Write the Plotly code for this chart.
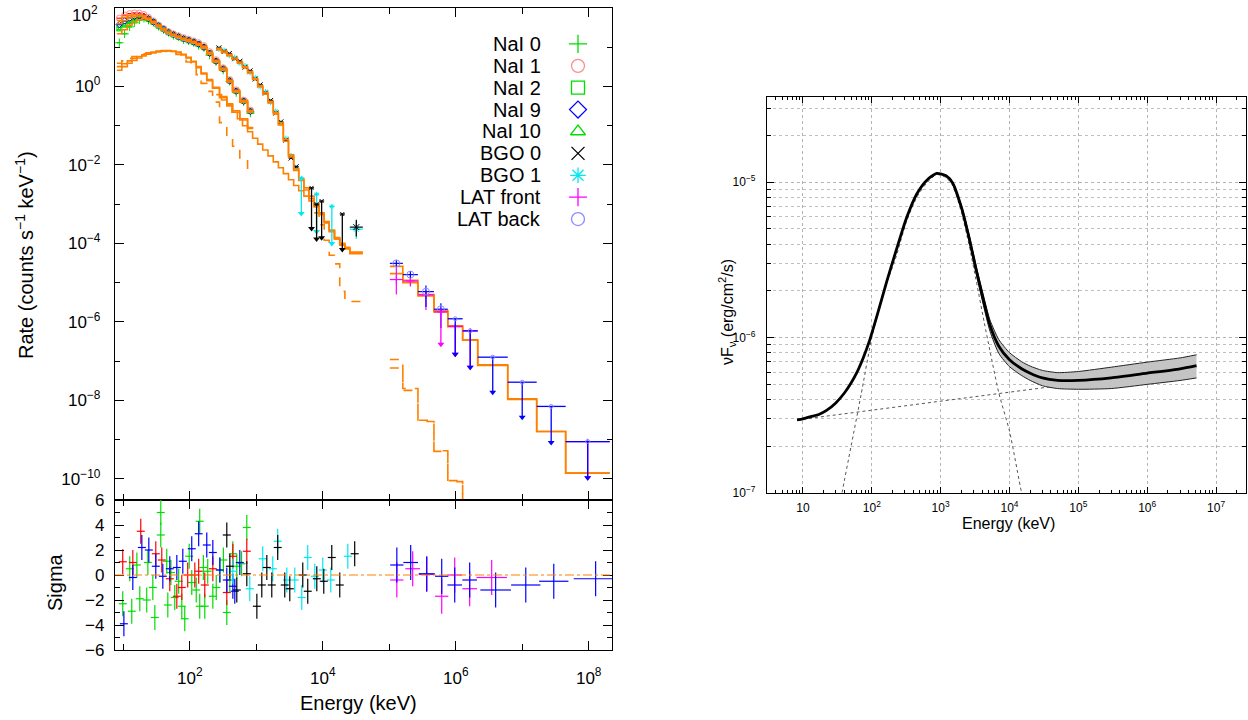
import numpy as np
import plotly.graph_objects as go

# ======================= LEFT: count spectra =======================
NAI_EDGES = [8, 9.5, 11.5, 13.5, 16, 19, 22, 26, 31, 37, 44, 52, 62, 74, 88, 105, 125, 148,
             180, 220, 280, 360, 440, 565, 740, 900]
NAI_MODEL_A = [48, 58, 65, 68, 68, 64, 55, 45, 36, 29, 24, 21, 19, 17, 15.5, 14, 12.5, 10.5,
               7.4, 4.6, 2.9, 1.43, 0.79, 0.44, 0.24]
NAI_MODEL_B = [40, 48, 55, 60, 62, 60, 53, 44, 36, 29, 24, 21, 18.5, 16.5, 15, 13.5, 12, 10,
               7.0, 4.4, 2.8, 1.38, 0.76, 0.42, 0.23]
NAI_MODEL_C = [22, 28, 36, 44, 50, 53, 50, 42, 35, 28, 23.5, 20.5, 18, 16, 14.5, 13, 11.5, 9.5,
               6.6, 4.2, 2.65, 1.3, 0.72, 0.40, 0.22]
NAI_LOW_A = [3.2, 3.8, 4.5, 5.2, 5.8, 6.4, 7.0, 7.5, 8.0, 8.2, 8.2, 8.0, 7.5, 6.6, 5.5, 4.4,
             3.2, 2.2, 1.5, 0.95, 0.55, 0.36, 0.24, 0.15, 0.09]
NAI_LOW_B = [2.6, 3.2, 3.9, 4.6, 5.3, 6.0, 6.6, 7.1, 7.6, 7.9, 8.0, 7.8, 7.3, 6.4, 5.3, 4.2,
             3.0, 2.1, 1.4, 0.9, 0.52, 0.34, 0.22, 0.14, 0.085]
NAI_LOW_DASH = [3.9, 4.5, 5.2, 5.8, 6.3, 6.8, 7.2, 7.6, 7.9, 8.0, 7.8, 7.3, 6.5, 5.4, 4.2, 3.0,
                2.0, 1.2, 0.75, 0.4, 0.12, 0.055, 0.03, 0.015, 0.007]

NAI0_RATE = [13, 22, 33, 42, 50, 55, 49, 43, 34, 28, 24, 20, 18.5, 15.5, 14.5, 13.2, 11, 9.8,
             6.3, 4.3, 2.6, 1.35, 0.70, 0.41, 0.21]
NAI1_RATE = [55, 66, 72, 75, 74, 68, 58, 47, 37, 30, 25, 22, 19.5, 17.5, 16, 14.5, 13, 11,
             7.7, 4.8, 3.0, 1.5, 0.82, 0.45, 0.25]
NAI2_RATE = [32, 40, 48, 54, 57, 58, 52, 44, 35, 29, 24, 21, 18.5, 16.5, 15, 13.5, 12, 10,
             7.2, 4.5, 2.85, 1.42, 0.78, 0.43, 0.24]
NAI9_RATE = [38, 47, 55, 61, 63, 61, 54, 44, 36, 29, 24, 21, 18.5, 16.5, 15, 13.5, 12, 10,
             7.0, 4.4, 2.8, 1.38, 0.76, 0.42, 0.23]
NAI10_RATE = [28, 35, 43, 50, 54, 56, 51, 43, 35, 28.5, 23.5, 20.5, 18, 16, 14.5, 13, 11.5, 9.7,
              6.8, 4.3, 2.7, 1.35, 0.74, 0.41, 0.22]

BGO_EDGES = [250, 300, 360, 430, 520, 620, 740, 880, 1050, 1250, 1500, 1800, 2150, 2550, 3050,
             3650, 4350, 5200, 6200, 7400, 8800, 10500, 12500, 15000, 18000, 21500, 25500, 40000]
BGO_MODEL_0 = [9.4, 8.0, 6.6, 5.3, 4.2, 3.2, 2.4, 1.6, 1.05, 0.7, 0.42, 0.22, 0.12, 0.045, 0.018,
               0.008, 0.0045, 0.0026, 0.0016, 0.001, 0.0006, 0.00036, 0.00022, 0.00014, 0.0001,
               0.00008, 0.00006]
BGO_MODEL_1 = [8.6, 7.4, 6.1, 5.0, 3.9, 3.0, 2.2, 1.5, 0.98, 0.64, 0.38, 0.2, 0.105, 0.04, 0.016,
               0.0072, 0.004, 0.0023, 0.0014, 0.0009, 0.00055, 0.00033, 0.0002, 0.00013, 0.00009,
               0.000072, 0.000055]
BGO_LOW = [0.62, 0.45, 0.32, 0.22, 0.15, 0.1, 0.07, 0.048, 0.034, 0.024, 0.017, 0.012, 0.0085,
           0.006, 0.0042, 0.003, 0.0022, 0.0016, 0.0012, 0.00085, 0.00055, 0.00034, 0.00021,
           0.00013, 0.000095, 0.000075, 0.000058]
BGO_DASH_EDGES = [7400, 8800, 10500, 12500, 15000, 18000, 21500, 25500, 40000]
BGO_DASH = [0.0006, 0.0003, 0.00012, 0.00005, 0.00003, 0.000006, 0.000004, 0.0000033]

BGO0_RATE = [9.6, 7.8, 6.9, 5.1, 4.4, 3.1, 2.5, 1.55, 1.1, 0.68, 0.44, 0.21, 0.125, 0.043, 0.015, 0.009]
BGO1_RATE = [9.1, 8.2, 6.3, 5.4, 4.0, 3.3, 2.3, 1.65, 1.0, 0.72, 0.4, 0.23, 0.115, 0.047, 0.017, 0.0083]
BGO0_UL_BIN = [18, 19, 20, 24]
BGO0_UL_TOP = [2.6e-3, 1.0e-3, 1.2e-3, 5.6e-4]
BGO0_UL_TIP = [2.4e-4, 1.3e-4, 1.4e-4, 7e-5]
BGO1_UL_BIN = [16, 19, 22]
BGO1_UL_TOP = [4.6e-3, 1.8e-3, 8.8e-4]
BGO1_UL_TIP = [5.8e-4, 2e-4, 1e-4]
BGO_LAST_BIN = [26]
BGO0_LAST = [2.6e-4]; BGO0_LAST_LO = [1.5e-4]; BGO0_LAST_HI = [4.0e-4]
BGO1_LAST = [2.3e-4]; BGO1_LAST_LO = [1.3e-4]; BGO1_LAST_HI = [3.6e-4]

LAT_EDGES = [1.02e5, 1.6e5, 2.7e5, 4.7e5, 7.6e5, 1.27e6, 2.14e6, 6.05e6, 1.65e7, 4.5e7, 2.07e8]
LAT_MODEL_BACK = [2.6e-5, 1.15e-5, 5.0e-6, 1.95e-6, 8.0e-7, 3.5e-7, 7.7e-8, 1.05e-8, 1.6e-9, 1.4e-10]
LAT_MODEL_FRONT = [1.7e-5, 1.0e-5, 4.6e-6, 1.8e-6, 7.5e-7, 3.4e-7, 8.0e-8, 1.1e-8, 1.6e-9, 1.4e-10]
LAT_DASH_BACK = [1.1e-7, 2.0e-8, 3.1e-9, 5.2e-10, 9.0e-11, 1e-12]
LAT_DASH_FRONT = [6.7e-8, 1.8e-8, 2.9e-9, 5.0e-10, 8.5e-11, 1e-12]

LATB_BIN = [0, 1, 2, 3]
LATB_RATE = [3.1e-5, 1.6e-5, 5.9e-6, 2.1e-6]
LATB_LO = [2.5e-5, 1.3e-5, 2.4e-6, 7e-7]
LATB_HI = [3.7e-5, 1.95e-5, 8.5e-6, 3.0e-6]
LATB_UL_BIN = [4, 5, 6, 7, 8, 9]
LATB_UL_TOP = [1.2e-6, 5.9e-7, 1.26e-7, 2.9e-8, 7.0e-9, 8.9e-10]
LATB_UL_TIP = [1.5e-7, 7e-8, 1.6e-8, 3.7e-9, 8.4e-10, 1.07e-10]
LATF_BIN = [0, 1, 2]
LATF_RATE = [1.2e-5, 1.1e-5, 4.9e-6]
LATF_LO = [5e-6, 8e-6, 2e-6]
LATF_HI = [2.9e-5, 1.5e-5, 6e-6]
LATF_UL_BIN = [3, 4, 5, 9]
LATF_UL_TOP = [1.8e-6, 7.7e-7, 5.9e-7, 8.9e-10]
LATF_UL_TIP = [2.7e-7, 1.5e-7, 7e-8, 1.07e-10]

# ---- residuals (sigma) ----
RES_NAI1_E = [9.8, 13.9, 18.3, 30.8, 37.9, 50, 63.8, 75.8, 93, 119, 136, 168, 222, 360, 444, 720]
RES_NAI1_S = [1.06, 1.0, 3.5, 1.7, 1.2, -0.3, -1.7, -1.0, 0.0, 0.0, 0.3, -0.8, 0.5, -1.4, 1.5, 1.9]
RES_NAIG_E = [9.8, 12.5, 13.4, 16, 17.7, 22.5, 23.4, 27.8, 29.8, 36.6, 36.6, 45, 46.7, 52, 59.4, 68,
              75.8, 84, 98, 107, 125, 141, 141, 160, 168, 186, 222, 250, 283, 320, 360, 400, 444,
              509, 600, 720]
RES_NAIG_S = [-2.3, 0.5, -2.9, 0.8, -1.9, -2.0, 1.0, -1.0, -3.4, 5.0, 3.2, 1.1, -2.4, 0.2, -1.8, -0.5,
              -2.5, -3.5, 1.5, -0.6, -1.2, -2.5, 4.3, 0.6, -2.5, 0.3, -1.7, -1.0, 0.4, 1.2, -3.0, -0.4,
              1.7, 0.7, 0.9, 3.8]
RES_NAI9_E = [10.2, 13.9, 19, 24.2, 30.8, 39.3, 50, 63.8, 78.5, 107, 136, 180, 222, 283, 360, 444, 475, 565]
RES_NAI9_S = [-3.9, -0.2, 2.2, 2.0, 0.7, -0.1, 0.5, 0.6, 1.1, 2.1, 3.3, 2.4, 1.8, 0.4, -0.4, -0.9, -1.3, 1.0]
RES_BGO0_E = [360, 400, 509, 720, 1020, 1210, 1440, 1710, 2100, 2680, 3190, 5000, 5940, 8130, 10350,
              13650, 18000, 30200]
RES_BGO0_S = [3.2, 0.7, -1.2, 0.1, -2.5, -0.8, 0.6, -0.8, 2.2, -0.8, -1.1, 0.0, -1.3, -0.3, -0.5,
              1.4, -0.8, 1.7]
RES_BGO1_E = [444, 798, 1250, 1770, 2100, 2880, 3790, 4830, 5940, 7590, 10000, 13200, 23800]
RES_BGO1_S = [0.3, -1.1, 1.3, 0.5, 2.7, -0.4, -0.4, -1.8, 1.4, -0.1, 0.4, -0.4, 1.5]
RES_LATB_E = [1.3e5, 2.1e5, 3.66e5, 6.15e5, 9.65e5, 1.62e6, 3.98e6, 1.13e7, 2.98e7, 1.27e8]
RES_LATB_S = [0.8, 1.0, 0.1, -0.1, -0.8, -0.4, -1.2, -0.8, -0.5, -0.3]
RES_LATB_W = [0.1, 0.11, 0.12, 0.1, 0.11, 0.11, 0.23, 0.22, 0.22, 0.33]
RES_LATF_E = [1.3e5, 2.25e5, 3.66e5, 6.15e5, 9.65e5, 1.62e6, 3.47e6]
RES_LATF_S = [-0.4, 0.5, 0.05, -1.7, 0.0, -1.1, -0.2]
RES_LATF_W = [0.1, 0.11, 0.12, 0.1, 0.11, 0.11, 0.23]

LEGEND_LABELS = ["NaI 0", "NaI 1", "NaI 2", "NaI 9", "NaI 10", "BGO 0", "BGO 1", "LAT front", "LAT back"]

# ======================= RIGHT: nuFnu =======================
TOT_E = [8.2, 10, 13, 17, 22, 30, 40, 50, 60, 75, 93, 120, 165, 220, 320, 450, 630, 875, 1200, 1500,
         2000, 2600, 3300, 4200, 5200, 7000, 1e4, 1.5e4, 2e4, 3e4, 5e4, 1e5, 3e5, 1e6, 3e6, 5.2e6]
TOT_F = [2.95e-7, 3.0e-7, 3.1e-7, 3.2e-7, 3.4e-7, 3.8e-7, 4.4e-7, 5.1e-7, 5.9e-7, 7.4e-7, 9.6e-7,
         1.4e-6, 2.3e-6, 3.5e-6, 5.9e-6, 8.4e-6, 1.03e-5, 1.14e-5, 1.1e-5, 9.85e-6, 6.9e-6, 4.35e-6,
         2.7e-6, 1.73e-6, 1.2e-6, 8.8e-7, 7.2e-7, 6.3e-7, 5.9e-7, 5.5e-7, 5.3e-7, 5.3e-7, 5.5e-7,
         5.9e-7, 6.3e-7, 6.6e-7]
BAND_E = [1500, 2000, 2600, 3300, 4200, 5200, 7000, 1e4, 1.5e4, 2e4, 3e4, 5e4, 1e5, 3e5, 1e6, 3e6, 5.2e6]
BAND_UP = [1.0e-5, 7.1e-6, 4.55e-6, 2.85e-6, 1.85e-6, 1.3e-6, 9.7e-7, 8.0e-7, 7.0e-7, 6.55e-7,
           6.15e-7, 5.95e-7, 6.05e-7, 6.45e-7, 6.95e-7, 7.4e-7, 7.75e-7]
BAND_LO = [9.7e-6, 6.7e-6, 4.15e-6, 2.55e-6, 1.6e-6, 1.1e-6, 7.9e-7, 6.5e-7, 5.7e-7, 5.3e-7, 4.9e-7,
           4.7e-7, 4.65e-7, 4.7e-7, 5.0e-7, 5.3e-7, 5.5e-7]
PL_E = [8.2, 1000, 2e4, 1e5, 1e6, 5.2e6]
PL_F = [2.95e-7, 3.9e-7, 4.6e-7, 5.1e-7, 5.8e-7, 6.4e-7]
BANDC_E = [32, 37, 50, 70, 100, 150, 220, 320, 450, 630, 875, 1200, 1500, 2000, 2600, 3300, 4300,
           7000, 1e4, 1.5e4, 1.7e4]
BANDC_F = [6.5e-8, 1.0e-7, 2.0e-7, 4.3e-7, 1.0e-6, 2.0e-6, 3.2e-6, 5.6e-6, 8.0e-6, 9.9e-6, 1.12e-5,
           1.07e-5, 9.5e-6, 6.4e-6, 3.9e-6, 2.3e-6, 1.25e-6, 4.4e-7, 2.5e-7, 1.0e-7, 8e-8]

# ======================= styling =======================
W, H = 1248, 720
FONT = "Liberation Sans, Arial, sans-serif"
ORANGE = "#ff8000"
GREEN = "#00dd00"
RED = "#ff0000"
PINK = "#ff8c8c"
BLUE = "#0000ff"
LAV = "#8c8cff"
CYAN = "#00e8f0"
MAG = "#ff00ff"
BLACK = "#000000"


def px(x):
    return x / W


def py(y):
    return 1 - y / H


traces = []


def step(edges, vals, dash="solid", width=1.6):
    n = len(vals)
    traces.append(go.Scatter(x=list(edges[:n + 1]), y=list(vals) + [vals[-1]], mode="lines",
                             line=dict(color=ORANGE, width=width, dash=dash, shape="hv"),
                             xaxis="x", yaxis="y", showlegend=False, hoverinfo="skip"))


def bins(edges, idx):
    lo = np.array([edges[i] for i in idx], float)
    hi = np.array([edges[i + 1] for i in idx], float)
    c = np.sqrt(lo * hi)
    return c, hi - c, c - lo


def data(edges, idx, rate, ecol, symbol, mcol=None, size=5, lo=None, hi=None):
    c, ep, em = bins(edges, idx)
    r = np.array(rate, float)
    ey = None
    if lo is not None:
        ey = dict(type="data", symmetric=False, array=np.array(hi) - r, arrayminus=r - np.array(lo),
                  color=ecol, thickness=1.2, width=0)
    traces.append(go.Scatter(x=c, y=r, mode="markers",
                             marker=dict(symbol=symbol, size=size, color=mcol or ecol,
                                         line=dict(width=1, color=mcol or ecol)),
                             error_x=dict(type="data", symmetric=False, array=ep, arrayminus=em,
                                          color=ecol, thickness=1.2, width=0),
                             error_y=ey, xaxis="x", yaxis="y", showlegend=False, hoverinfo="skip"))


def ulim(edges, idx, top, tip, ecol, symbol, mcol=None):
    c, ep, em = bins(edges, idx)
    t = np.array(top, float)
    b = np.array(tip, float)
    traces.append(go.Scatter(x=c, y=t, mode="markers",
                             marker=dict(symbol=symbol, size=4, color=mcol or ecol,
                                         line=dict(width=1, color=mcol or ecol)),
                             error_x=dict(type="data", symmetric=False, array=ep, arrayminus=em,
                                          color=ecol, thickness=1.3, width=0),
                             error_y=dict(type="data", symmetric=False, array=np.zeros(len(t)),
                                          arrayminus=t - b, color=ecol, thickness=1.3, width=0),
                             xaxis="x", yaxis="y", showlegend=False, hoverinfo="skip"))
    traces.append(go.Scatter(x=c, y=b, mode="markers",
                             marker=dict(symbol="triangle-down", size=6, color=ecol),
                             xaxis="x", yaxis="y", showlegend=False, hoverinfo="skip"))


def resid(E, S, col, w=None, err=1.0):
    E = np.array(E, float)
    wd = np.array(w if w is not None else [0.06] * len(E), float)
    traces.append(go.Scatter(x=E, y=S, mode="markers", marker=dict(size=1, color=col),
                             error_x=dict(type="data", symmetric=False, array=E * (10 ** wd) - E,
                                          arrayminus=E - E / (10 ** wd), color=col, thickness=1.2, width=0),
                             error_y=dict(type="constant", value=err, color=col, thickness=1.2, width=0),
                             xaxis="x2", yaxis="y2", showlegend=False, hoverinfo="skip"))


# ---- model step lines ----
step(NAI_EDGES, NAI_LOW_DASH, dash="dash")
step(NAI_EDGES, NAI_LOW_B)
step(NAI_EDGES, NAI_LOW_A)
step(BGO_EDGES, BGO_LOW)
step(BGO_DASH_EDGES, BGO_DASH, dash="dash")
step(LAT_EDGES, LAT_DASH_FRONT, dash="dash")
step(LAT_EDGES, LAT_DASH_BACK, dash="dash")

# ---- NaI data ----
NI = list(range(len(NAI_MODEL_A)))
data(NAI_EDGES, NI, NAI0_RATE, GREEN, "cross-thin-open", size=6)
data(NAI_EDGES, NI, NAI10_RATE, GREEN, "triangle-up-open", size=5)
data(NAI_EDGES, NI, NAI2_RATE, GREEN, "square-open", size=5)
data(NAI_EDGES, NI, NAI9_RATE, BLUE, "diamond-open", size=5)
data(NAI_EDGES, NI, NAI1_RATE, RED, "circle-open", mcol=PINK, size=6)
step(NAI_EDGES, NAI_MODEL_C)
step(NAI_EDGES, NAI_MODEL_B)
step(NAI_EDGES, NAI_MODEL_A)

# ---- BGO data ----
BI = list(range(len(BGO0_RATE)))
data(BGO_EDGES, BI, BGO1_RATE, CYAN, "asterisk-open", size=5)
data(BGO_EDGES, BI, BGO0_RATE, BLACK, "x-thin-open", size=5)
step(BGO_EDGES, BGO_MODEL_1)
step(BGO_EDGES, BGO_MODEL_0)
ulim(BGO_EDGES, BGO1_UL_BIN, BGO1_UL_TOP, BGO1_UL_TIP, CYAN, "asterisk-open")
ulim(BGO_EDGES, BGO0_UL_BIN, BGO0_UL_TOP, BGO0_UL_TIP, BLACK, "x-thin-open")
data(BGO_EDGES, BGO_LAST_BIN, BGO1_LAST, CYAN, "asterisk-open", size=6, lo=BGO1_LAST_LO, hi=BGO1_LAST_HI)
data(BGO_EDGES, BGO_LAST_BIN, BGO0_LAST, BLACK, "x-thin-open", size=6, lo=BGO0_LAST_LO, hi=BGO0_LAST_HI)

# ---- LAT ----
step(LAT_EDGES, LAT_MODEL_FRONT)
step(LAT_EDGES, LAT_MODEL_BACK)
data(LAT_EDGES, LATF_BIN, LATF_RATE, MAG, "cross-thin-open", size=6, lo=LATF_LO, hi=LATF_HI)
data(LAT_EDGES, LATB_BIN, LATB_RATE, BLUE, "circle-open", mcol=LAV, size=7, lo=LATB_LO, hi=LATB_HI)
ulim(LAT_EDGES, LATF_UL_BIN, LATF_UL_TOP, LATF_UL_TIP, MAG, "cross-thin-open")
ulim(LAT_EDGES, LATB_UL_BIN, LATB_UL_TOP, LATB_UL_TIP, BLUE, "circle-open", mcol=LAV)

# ---- residuals ----
resid(RES_NAIG_E, RES_NAIG_S, GREEN)
resid(RES_NAI1_E, RES_NAI1_S, RED)
resid(RES_NAI9_E, RES_NAI9_S, BLUE)
resid(RES_BGO1_E, RES_BGO1_S, CYAN)
resid(RES_BGO0_E, RES_BGO0_S, BLACK)
resid(RES_LATF_E, RES_LATF_S, MAG, w=RES_LATF_W, err=1.4)
resid(RES_LATB_E, RES_LATB_S, BLUE, w=RES_LATB_W, err=1.4)

# ---- legend keys (separate hidden axis) ----
LEG_SYM = ["cross-thin-open", "circle-open", "square-open", "diamond-open", "triangle-up-open",
           "x-thin-open", "asterisk-open", "cross-thin-open", "circle-open"]
LEG_COL = [GREEN, PINK, GREEN, BLUE, GREEN, BLACK, CYAN, MAG, LAV]
for i, (s, c) in enumerate(zip(LEG_SYM, LEG_COL)):
    traces.append(go.Scatter(x=[0.5], y=[i], mode="markers",
                             marker=dict(symbol=s, size=13, color=c, line=dict(width=1.3, color=c)),
                             xaxis="x4", yaxis="y4", showlegend=False, hoverinfo="skip"))

# ---- right panel ----
traces.append(go.Scatter(x=PL_E, y=PL_F, mode="lines", line=dict(color="#555555", width=1, dash="dot"),
                         xaxis="x3", yaxis="y3", showlegend=False, hoverinfo="skip"))
traces.append(go.Scatter(x=BANDC_E, y=BANDC_F, mode="lines",
                         line=dict(color="#555555", width=1, dash="dot", shape="spline", smoothing=0.6),
                         xaxis="x3", yaxis="y3", showlegend=False, hoverinfo="skip"))
traces.append(go.Scatter(x=BAND_E, y=BAND_UP, mode="lines",
                         line=dict(color="#222222", width=1, shape="spline", smoothing=0.6),
                         xaxis="x3", yaxis="y3", showlegend=False, hoverinfo="skip"))
traces.append(go.Scatter(x=BAND_E, y=BAND_LO, mode="lines", fill="tonexty", fillcolor="#c4c4c4",
                         line=dict(color="#222222", width=1, shape="spline", smoothing=0.6),
                         xaxis="x3", yaxis="y3", showlegend=False, hoverinfo="skip"))
traces.append(go.Scatter(x=TOT_E, y=TOT_F, mode="lines",
                         line=dict(color="#000000", width=2.8, shape="spline", smoothing=0.6),
                         xaxis="x3", yaxis="y3", showlegend=False, hoverinfo="skip"))

fig = go.Figure(traces)


def sup(b, e):
    return "10<sup>%s</sup>" % (str(e).replace("-", "\u2212"))


axline = dict(showline=True, linecolor="black", linewidth=1.3, mirror="allticks", ticks="inside",
              tickcolor="black", zeroline=False, showgrid=False, automargin=False,
              ticklabeloverflow="allow")
LFONT = dict(family=FONT, size=17, color="black")

XL_TV = [1e2, 1e4, 1e6, 1e8]
XL_TT = [sup(10, 2), sup(10, 4), sup(10, 6), sup(10, 8)]
XL_MINOR = [1e1, 1e3, 1e5, 1e7]
# the top decade (10^2) sits on the frame; its label is placed as an annotation below
YL_TV = [1e-10, 1e-8, 1e-6, 1e-4, 1e-2, 1]
YL_TT = [sup(10, -10), sup(10, -8), sup(10, -6), sup(10, -4), sup(10, -2), sup(10, 0)]
YL_MINOR = [1e-9, 1e-7, 1e-5, 1e-3, 1e-1, 1e1]

xdom_l = [px(115), px(612)]
fig.update_layout(
    width=W, height=H, margin=dict(l=0, r=0, t=0, b=0, autoexpand=False),
    paper_bgcolor="white", plot_bgcolor="white", showlegend=False,
    font=dict(family=FONT, color="black"),
    xaxis=dict(axline, type="log", domain=xdom_l, anchor="y", range=[0.875, 8.35],
               tickvals=XL_TV, showticklabels=False, ticklen=9,
               minor=dict(tickvals=XL_MINOR, ticklen=6, ticks="inside", tickcolor="black")),
    yaxis=dict(axline, type="log", domain=[py(500), py(8)], anchor="x", range=[-10.54, 2.0],
               tickvals=YL_TV, ticktext=YL_TT, ticklen=9, tickfont=LFONT, ticklabelstandoff=10,
               minor=dict(tickvals=YL_MINOR, ticklen=5, ticks="inside", tickcolor="black")),
    xaxis2=dict(axline, type="log", domain=xdom_l, anchor="y2", range=[0.875, 8.35],
                tickvals=XL_TV, ticktext=XL_TT, ticklen=9, tickfont=LFONT, ticklabelstandoff=12,
                minor=dict(tickvals=XL_MINOR, ticklen=6, ticks="inside", tickcolor="black")),
    yaxis2=dict(axline, domain=[py(650), py(500)], anchor="x2", range=[-6, 6],
                tickvals=[-6, -4, -2, 0, 2, 4, 6], ticklen=9, tickfont=LFONT, ticklabelstandoff=6,
                minor=dict(tickvals=[-5, -3, -1, 1, 3, 5], ticklen=5, ticks="inside", tickcolor="black")),
    xaxis3=dict(axline, type="log", domain=[px(767), px(1246)], anchor="y3", range=[0.478, 7.435],
                tickvals=[10 ** k for k in range(1, 8)],
                ticktext=["10"] + [sup(10, k) for k in range(2, 8)], ticklen=6,
                tickfont=dict(family=FONT, size=12, color="black"), ticklabelstandoff=3,
                showgrid=True, gridcolor="#b4b4b4", griddash="dot", gridwidth=1,
                minor=dict(tickvals=[m * 10 ** k for k in range(0, 8) for m in range(2, 10)],
                           ticklen=3, ticks="inside", tickcolor="black", showgrid=False)),
    yaxis3=dict(axline, type="log", domain=[py(493), py(97)], anchor="x3", range=[-7, -4.452],
                tickvals=[1e-7, 1e-6, 1e-5], ticktext=[sup(10, -7), sup(10, -6), sup(10, -5)],
                ticklen=7, tickfont=dict(family=FONT, size=12, color="black"), ticklabelstandoff=8,
                showgrid=True, gridcolor="#b4b4b4", griddash="dot", gridwidth=1,
                minor=dict(tickvals=[m * 10 ** k for k in range(-7, -4) for m in range(2, 10)],
                           ticklen=4, ticks="inside", tickcolor="black", showgrid=True,
                           gridcolor="#c0c0c0", griddash="dot", gridwidth=1)),
    xaxis4=dict(visible=False, domain=[px(565), px(591)], anchor="y4", range=[0, 1], fixedrange=True,
                automargin=False),
    yaxis4=dict(visible=False, domain=[py(230), py(33)], anchor="x4", range=[8.5, -0.5], fixedrange=True,
                automargin=False),
)

ann = []
for i, lab in enumerate(LEGEND_LABELS):
    ann.append(dict(text=lab, x=px(543), y=i, xref="paper", yref="y4", xanchor="right", yanchor="middle",
                    showarrow=False, font=dict(family=FONT, size=20, color="black")))
TF = dict(family=FONT, size=20, color="black")
C = dict(xref="paper", yref="paper", xanchor="center", yanchor="middle", showarrow=False)
ann += [
    dict(C, text=sup(10, 2), x=px(100), y=py(14), xanchor="right", font=LFONT),
    dict(C, text="Rate (counts s<sup>\u22121</sup> keV<sup>\u22121</sup>)", x=px(24), y=py(255),
         textangle=-90, font=TF),
    dict(C, text="Sigma", x=px(55), y=py(582), textangle=-90, font=TF),
    dict(C, text="Energy (keV)", x=px(358), y=py(703), font=TF),
    dict(C, text="Energy (keV)", x=px(1008), y=py(523), font=dict(family=FONT, size=16, color="black")),
    dict(C, text="\u03bdF<sub>\u03bd</sub> (erg/cm<sup>2</sup>/s)", x=px(727), y=py(312),
         textangle=-90, font=dict(family=FONT, size=16, color="black")),
]
fig.update_layout(annotations=ann)
fig.add_shape(type="line", xref="x2 domain", yref="y2", x0=0, x1=1, y0=0, y1=0,
              line=dict(color=ORANGE, width=1.2, dash="dashdot"))

fig.write_html("out.html", config={"displayModeBar": False},
               post_script="document.body.style.margin='0';")
